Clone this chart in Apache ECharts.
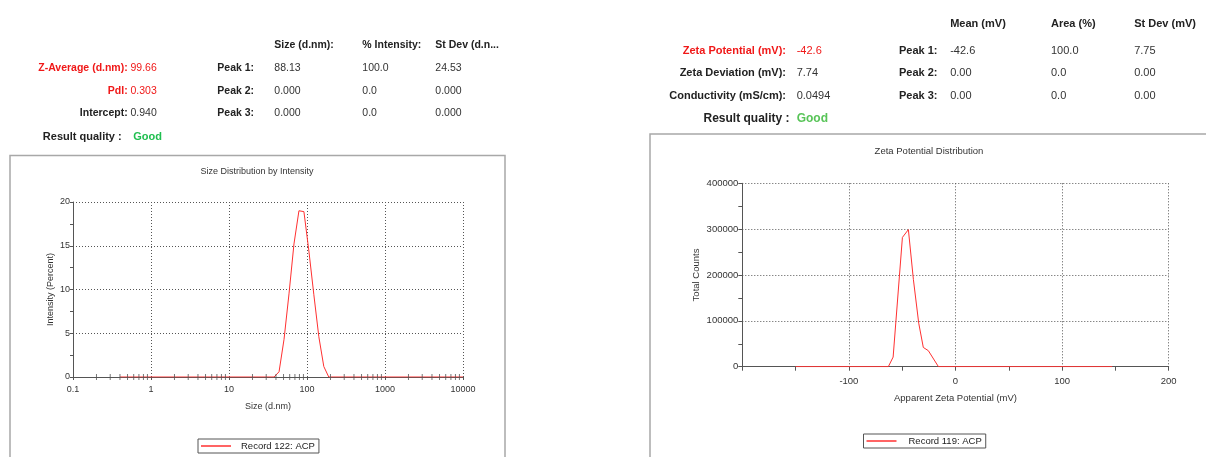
<!DOCTYPE html>
<html><head><meta charset="utf-8">
<script src="https://cdn.jsdelivr.net/npm/echarts@6/dist/echarts.min.js"></script>
<style>html,body{margin:0;padding:0;background:#fff;}#c{width:1206px;height:457px;}</style>
</head><body><div id="c"></div>
<script>
// ---- Size distribution (left) ----
const sizeNm = [0.4, 37.84, 43.82, 50.75, 58.77, 68.06, 78.82, 91.28, 105.7, 122.4, 141.8, 164.2, 190.1, 10000];
const intensityPct = [0, 0, 0.6, 4.3, 9.5, 15.2, 19.0, 18.9, 14.4, 9.4, 4.6, 1.2, 0, 0];
const sizeMinorTicks = [0.2,0.3,0.4,0.5,0.6,0.7,0.8,0.9, 2,3,4,5,6,7,8,9, 20,30,40,50,60,70,80,90, 200,300,400,500,600,700,800,900, 2000,3000,4000,5000,6000,7000,8000,9000];
// ---- Zeta potential distribution (right) ----
const zetaMv = [-150, -63, -58.5, -49.8, -44.2, -39.5, -34.5, -30.2, -25.5, -16, 147];
const zetaCounts = [0, 0, 21000, 282000, 299000, 190000, 95000, 42000, 35000, 0, 0];

// ---- Header tables ----
const sizeHeaderCols = ['Size (d.nm):', '% Intensity:', 'St Dev (d.n...'];
const sizeSummaryLabels = ['Z-Average (d.nm):', 'PdI:', 'Intercept:'];
const sizeSummaryValues = ['99.66', '0.303', '0.940'];
const sizePeakLabels = ['Peak 1:', 'Peak 2:', 'Peak 3:'];
const sizePeakRows = [['88.13','100.0','24.53'],['0.000','0.0','0.000'],['0.000','0.0','0.000']];
const zetaHeaderCols = ['Mean (mV)', 'Area (%)', 'St Dev (mV)'];
const zetaSummaryLabels = ['Zeta Potential (mV):', 'Zeta Deviation (mV):', 'Conductivity (mS/cm):'];
const zetaSummaryValues = ['-42.6', '7.74', '0.0494'];
const zetaPeakLabels = ['Peak 1:', 'Peak 2:', 'Peak 3:'];
const zetaPeakRows = [['-42.6','100.0','7.75'],['0.00','0.0','0.00'],['0.00','0.0','0.00']];
const qualityLabel = 'Result quality :';
const qualityValue = 'Good';

const FF = '"Liberation Sans", Arial, Helvetica, sans-serif';
const RED = '#f01818', GREEN_L = '#1fbf4f', GREEN_R = '#58c458', DARK = '#222';

function T(x, y, text, size, bold, color, align) {
  return { type: 'text', x: x, y: y, silent: true, style: {
    text: text, fill: color || DARK, fontSize: size, fontWeight: bold ? 'bold' : 'normal',
    fontFamily: FF, align: align || 'left', verticalAlign: 'middle' } };
}

const g = [];
// chart boxes
g.push({ type: 'rect', shape: { x: 10, y: 155.5, width: 495, height: 330 }, style: { fill: 'none', stroke: '#a8a8a8', lineWidth: 1.5 }, silent: true });
g.push({ type: 'rect', shape: { x: 650, y: 134, width: 600, height: 350 }, style: { fill: 'none', stroke: '#a8a8a8', lineWidth: 1.5 }, silent: true });

// left header
const lColX = [274.3, 362.3, 435.3], lRowY = [67.7, 90.7, 112.7];
sizeHeaderCols.forEach((t, i) => g.push(T(lColX[i], 45, t, 10.5, true)));
sizeSummaryLabels.forEach((t, i) => {
  const c = i < 2 ? RED : DARK;
  g.push(T(127.7, lRowY[i], t, 10.5, true, c, 'right'));
  g.push(T(130.5, lRowY[i], sizeSummaryValues[i], 10.5, false, i < 2 ? RED : '#333'));
});
sizePeakLabels.forEach((t, i) => {
  g.push(T(217.3, lRowY[i], t, 10.5, true));
  sizePeakRows[i].forEach((v, j) => g.push(T(lColX[j], lRowY[i], v, 10.5, false, '#333')));
});
g.push(T(121.7, 136.7, qualityLabel, 11, true, DARK, 'right'));
g.push(T(133.3, 136.7, qualityValue, 11, true, GREEN_L));

// right header
const rColX = [950.2, 1051, 1134.2], rRowY = [50.7, 73.3, 96];
zetaHeaderCols.forEach((t, i) => g.push(T(rColX[i], 24, t, 11, true)));
zetaSummaryLabels.forEach((t, i) => {
  const c = i < 1 ? RED : DARK;
  g.push(T(786, rRowY[i], t, 11, true, c, 'right'));
  g.push(T(796.7, rRowY[i], zetaSummaryValues[i], 11, false, i < 1 ? RED : '#333'));
});
zetaPeakLabels.forEach((t, i) => {
  g.push(T(899, rRowY[i], t, 11, true));
  zetaPeakRows[i].forEach((v, j) => g.push(T(rColX[j], rRowY[i], v, 11, false, '#333')));
});
g.push(T(789.5, 118.3, qualityLabel, 12, true, DARK, 'right'));
g.push(T(796.7, 118.3, qualityValue, 12, true, GREEN_R));

// chart titles
g.push(T(257, 171.5, 'Size Distribution by Intensity', 9, false, '#333', 'center'));
g.push(T(929, 151, 'Zeta Potential Distribution', 9.5, false, '#333', 'center'));

const axisCol = '#555';
const fmt = v => String(Number(Number(v).toPrecision(6)));
const splitL = { show: true, lineStyle: { color: '#555', type: [1, 2], width: 1 } };

const chart = echarts.init(document.getElementById('c'), null, { renderer: 'canvas' });
chart.setOption({
  animation: false,
  textStyle: { fontFamily: FF },
  graphic: g,
  grid: [
    { left: 73, top: 202, width: 390, height: 175, outerBoundsMode: 'none', containLabel: false },
    { left: 742.3, top: 183.3, width: 426.4, height: 183.4, outerBoundsMode: 'none', containLabel: false }
  ],
  xAxis: [
    { gridIndex: 0, type: 'log', logBase: 10, min: 0.1, max: 10000,
      axisLine: { show: true, onZero: false, lineStyle: { color: axisCol } },
      axisTick: { show: true, length: 3, lineStyle: { color: axisCol } },
      axisLabel: { fontSize: 9, color: '#333', margin: 8, formatter: fmt },
      splitLine: splitL,
      name: 'Size (d.nm)', nameLocation: 'middle', nameGap: 25, nameTextStyle: { fontSize: 9, color: '#333' } },
    { gridIndex: 1, type: 'value', min: -200, max: 200, interval: 100,
      axisLine: { show: true, onZero: false, lineStyle: { color: axisCol } },
      axisTick: { show: true, length: 4, lineStyle: { color: axisCol } },
      minorTick: { show: true, splitNumber: 2, length: 4, lineStyle: { color: axisCol } },
      axisLabel: { fontSize: 9.5, color: '#333', margin: 10, showMinLabel: false, formatter: fmt },
      splitLine: splitL,
      name: 'Apparent Zeta Potential (mV)', nameLocation: 'middle', nameGap: 27, nameTextStyle: { fontSize: 9.5, color: '#333' } }
  ],
  yAxis: [
    { gridIndex: 0, type: 'value', min: 0, max: 20, interval: 5,
      axisLine: { show: true, onZero: false, lineStyle: { color: axisCol } },
      axisTick: { show: true, length: 3, lineStyle: { color: axisCol } },
      minorTick: { show: true, splitNumber: 2, length: 3, lineStyle: { color: axisCol } },
      axisLabel: { fontSize: 9, color: '#333', margin: 3, formatter: fmt },
      splitLine: splitL,
      name: 'Intensity (Percent)', nameLocation: 'middle', nameGap: 18, nameRotate: 90, nameTextStyle: { fontSize: 9, color: '#333' } },
    { gridIndex: 1, type: 'value', min: 0, max: 400000, interval: 100000,
      axisLine: { show: true, onZero: false, lineStyle: { color: axisCol } },
      axisTick: { show: true, length: 4, lineStyle: { color: axisCol } },
      minorTick: { show: true, splitNumber: 2, length: 4, lineStyle: { color: axisCol } },
      axisLabel: { fontSize: 9.5, color: '#333', margin: 4, formatter: fmt },
      splitLine: splitL,
      name: 'Total Counts', nameLocation: 'middle', nameGap: 41, nameRotate: 90, nameTextStyle: { fontSize: 9.5, color: '#333' } }
  ],
  legend: [
    { data: ['Record 122: ACP'], left: 198, top: 439, orient: 'horizontal', padding: [2, 4, 2, 3],
      borderColor: '#555', borderWidth: 1, itemWidth: 30, itemHeight: 1.5, icon: 'rect', selectedMode: false,
      textStyle: { fontSize: 9.5, color: '#222', padding: [0, 0, 0, 5] } },
    { data: ['Record 119: ACP'], left: 863.5, top: 434, orient: 'horizontal', padding: [2, 4, 2, 3],
      borderColor: '#555', borderWidth: 1, itemWidth: 30, itemHeight: 1.5, icon: 'rect', selectedMode: false,
      textStyle: { fontSize: 9.5, color: '#222', padding: [0, 0, 0, 7] } }
  ],
  series: [
    { name: 'Record 122: ACP', type: 'line', xAxisIndex: 0, yAxisIndex: 0, symbol: 'none', showSymbol: false,
      data: sizeNm.map((x, i) => [x, intensityPct[i]]), z: 3,
      lineStyle: { color: '#ff3030', width: 1 }, itemStyle: { color: '#ff3030' } },
    { type: 'scatter', xAxisIndex: 0, yAxisIndex: 0, silent: true, symbol: 'rect', symbolSize: [1, 6], z: 4,
      data: sizeMinorTicks.map(v => [v, 0]), itemStyle: { color: axisCol } },
    { name: 'Record 119: ACP', type: 'line', xAxisIndex: 1, yAxisIndex: 1, symbol: 'none', showSymbol: false,
      data: zetaMv.map((x, i) => [x, zetaCounts[i]]), z: 3,
      lineStyle: { color: '#ff3030', width: 1 }, itemStyle: { color: '#ff3030' } }
  ]
});
</script></body></html>
